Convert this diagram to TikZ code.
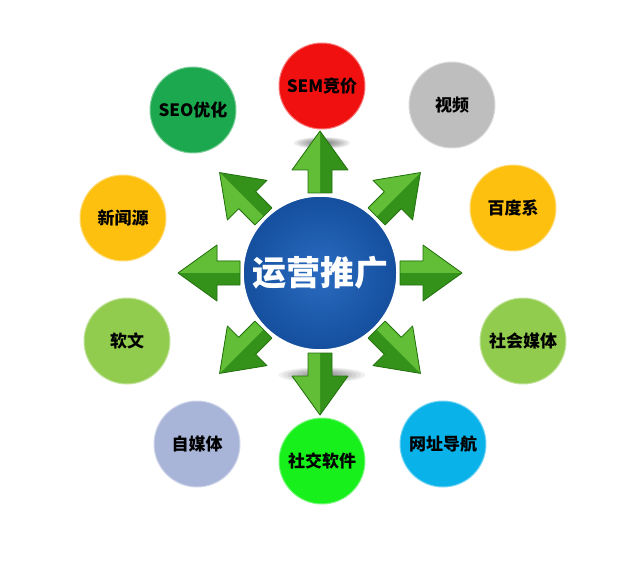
\documentclass[tikz,border=0pt]{standalone}
\usepackage{fontspec}
\usepackage{xcolor}
\usepackage{tikz}
\usetikzlibrary{calc,positioning}
\newfontfamily\cjk{Noto Sans CJK SC}
\definecolor{hublight}{HTML}{2A6BC0}
\definecolor{hubdark}{HTML}{154F9E}
\definecolor{arrlight}{HTML}{62BE36}
\definecolor{arrdark}{HTML}{34921A}
\definecolor{arredge}{HTML}{21700D}
\definecolor{semred}{HTML}{F01010}
\definecolor{seogreen}{HTML}{1CA84E}
\definecolor{grey}{HTML}{BEBEBE}
\definecolor{amber}{HTML}{FDC00F}
\definecolor{leaf}{HTML}{92CC4E}
\definecolor{lavender}{HTML}{A8B4D8}
\definecolor{lime}{HTML}{18F01C}
\definecolor{sky}{HTML}{0AB2EA}

\begin{document}
\begin{tikzpicture}[x=1pt, y=1pt, line join=round,
  spot/.style={circle, minimum size=86pt, inner sep=0pt, draw=#1!55!white, line width=1pt, fill=#1,
    font=\cjk\bfseries\fontsize{17}{17}\selectfont, text=black}]
  \fill[white] (0,0) rectangle (628,568);
  \useasboundingbox (0,0) rectangle (628,568);
  \coordinate (O) at (320,295);

  % soft shadows under the vertical arrows
  \foreach \k in {1,...,8}{
    \fill[black, opacity=0.07] (322,425) ellipse ({31-3*\k} and {6.5-0.6*\k});
    \fill[black, opacity=0.06] (322,193) ellipse ({48-4.5*\k} and {8.5-0.8*\k});
  }

  % block arrows, lit from the upper left
  \foreach \a in {0,45,...,315}{
    \pgfmathsetmacro\s{ifthenelse(cos(\a-45)>=0,1,-1)}
    \begin{scope}[shift={(O)}, rotate=\a]
      \fill[arrdark] (80,-12) -- (103,-12) -- (103,-28) -- (142,0) -- (103,28) -- (103,12) -- (80,12) -- cycle;
      \fill[arrlight] (80,0) -- (80,{\s*12}) -- (103,{\s*12}) -- (103,{\s*28}) -- (142,0) -- cycle;
      \draw[arredge, line width=0.8pt] (80,-12) -- (103,-12) -- (103,-28) -- (142,0) -- (103,28) -- (103,12) -- (80,12) -- cycle;
    \end{scope}
  }

  % hub
  \node[circle, minimum size=154pt, inner sep=0pt, inner color=hublight, outer color=hubdark,
    draw=white, line width=1.5pt, text=white, font=\cjk\bfseries\fontsize{34}{34}\selectfont]
    (hub) at (O) {运营推广};

  % channels
  \node[spot=semred]   (sem)    at (322,482) {SEM竞价};
  \node[spot=grey]     (video)  at (452,463) {视频};
  \node[spot=amber]    (baidu)  at (513,360) {百度系};
  \node[spot=leaf]     (social) at (523,227) {社会媒体};
  \node[spot=sky]      (nav)    at (443,124) {网址导航};
  \node[spot=lime]     (im)     at (322,107) {社交软件};
  \node[spot=lavender] (self)   at (197,124) {自媒体};
  \node[spot=leaf]     (soft)   at (127,227) {软文};
  \node[spot=amber]    (news)   at (123,350) {新闻源};
  \node[spot=seogreen] (seo)    at (193,458) {SEO优化};
\end{tikzpicture}
\end{document}
